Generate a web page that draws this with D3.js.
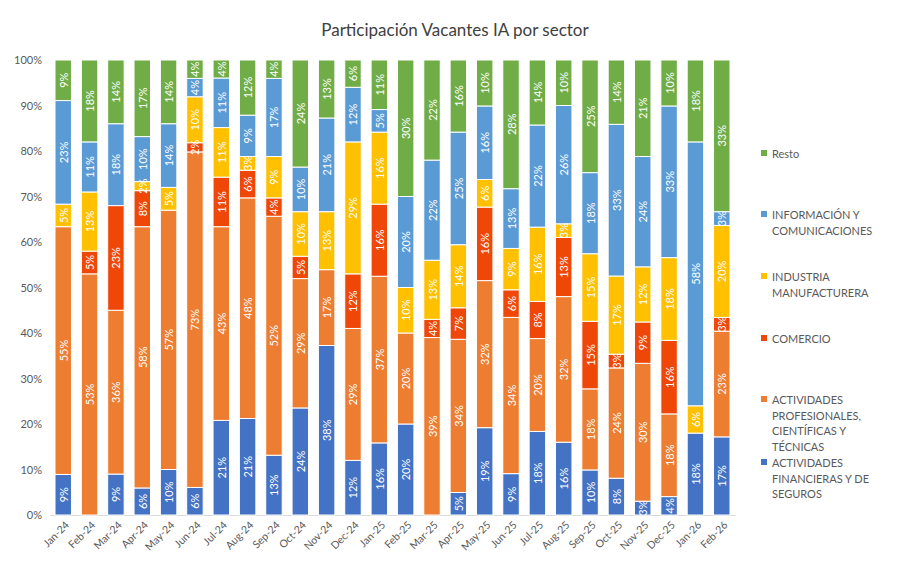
<!DOCTYPE html>
<html>
<head>
<meta charset="utf-8">
<script src="https://cdn.jsdelivr.net/npm/d3@7"></script>
<style>
  body { margin: 0; background: #fff; }
  svg { font-family: Lato, "Open Sans", sans-serif; }
</style>
</head>
<body>
<div id="chart"></div>
<script>
// months on the x axis
const months = ['Jan-24', 'Feb-24', 'Mar-24', 'Apr-24', 'May-24', 'Jun-24', 'Jul-24', 'Aug-24',
  'Sep-24', 'Oct-24', 'Nov-24', 'Dec-24', 'Jan-25', 'Feb-25', 'Mar-25', 'Apr-25', 'May-25',
  'Jun-25', 'Jul-25', 'Aug-25', 'Sep-25', 'Oct-25', 'Nov-25', 'Dec-25', 'Jan-26', 'Feb-26'];

// share of vacancies per sector (%)
const financieras   = [9, 0, 9, 6, 10, 6, 21, 21, 13, 24, 38, 12, 16, 20, 0, 5, 19, 9, 18, 16, 10, 8, 3, 4, 18, 17];
const profesionales = [55, 53, 36, 58, 57, 73, 43, 48, 52, 29, 17, 29, 37, 20, 39, 34, 32, 34, 20, 32, 18, 24, 30, 18, 0, 23];
const comercio      = [0, 5, 23, 8, 0, 2, 11, 6, 4, 5, 0, 12, 16, 0, 4, 7, 16, 6, 8, 13, 15, 3, 9, 16, 0, 3];
const industria     = [5, 13, 0, 2, 5, 10, 11, 3, 9, 10, 13, 29, 16, 10, 13, 14, 6, 9, 16, 3, 15, 17, 12, 18, 6, 20];
const informacion   = [23, 11, 18, 10, 14, 4, 11, 9, 17, 10, 21, 12, 5, 20, 22, 25, 16, 13, 22, 26, 18, 33, 24, 33, 58, 3];
const resto         = [9, 18, 14, 17, 14, 4, 4, 12, 4, 24, 13, 6, 11, 30, 22, 16, 10, 28, 14, 10, 25, 14, 21, 10, 18, 33];

const series = [
  { key: 'fin', values: financieras, color: '#4472C4', label: ['ACTIVIDADES', 'FINANCIERAS Y DE', 'SEGUROS'] },
  { key: 'prof', values: profesionales, color: '#ED7D31', label: ['ACTIVIDADES', 'PROFESIONALES,', 'CIENTÍFICAS Y', 'TÉCNICAS'] },
  { key: 'com', values: comercio, color: '#EE4708', label: ['COMERCIO'] },
  { key: 'ind', values: industria, color: '#FFC000', label: ['INDUSTRIA', 'MANUFACTURERA'] },
  { key: 'info', values: informacion, color: '#5B9BD5', label: ['INFORMACIÓN Y', 'COMUNICACIONES'] },
  { key: 'resto', values: resto, color: '#70AD47', label: ['Resto'] }
];

const width = 905, height = 565;
const margin = { top: 60, right: 170, bottom: 50, left: 50 };

const svg = d3.select('#chart').append('svg')
  .attr('width', width)
  .attr('height', height);

svg.append('text')
  .attr('x', 455)
  .attr('y', 36)
  .attr('text-anchor', 'middle')
  .attr('font-size', 17)
  .attr('fill', '#404040')
  .text('Participación Vacantes IA por sector');

const rows = months.map((m, i) => {
  const r = { month: m };
  series.forEach(s => r[s.key] = s.values[i]);
  return r;
});

const stacked = d3.stack()
  .keys(series.map(s => s.key))
  .offset(d3.stackOffsetExpand)(rows);

const x = d3.scaleBand()
  .domain(months)
  .range([margin.left, width - margin.right])
  .paddingInner(0.375)
  .paddingOuter(0.19);

const y = d3.scaleLinear()
  .domain([0, 1])
  .range([height - margin.bottom, margin.top]);

// y axis
const yAxis = svg.append('g')
  .attr('transform', `translate(${margin.left},0)`)
  .call(d3.axisLeft(y).tickValues(d3.range(0, 1.01, 0.1)).tickFormat(d3.format('.0%')).tickSize(0).tickPadding(8));
yAxis.select('.domain').remove();
yAxis.selectAll('text').attr('fill', '#595959').attr('font-size', 11).attr('font-family', 'Lato, sans-serif');

// x axis
const xAxis = svg.append('g')
  .attr('transform', `translate(0,${height - margin.bottom})`)
  .call(d3.axisBottom(x).tickSize(0));
xAxis.select('.domain').attr('stroke', '#d9d9d9');
xAxis.selectAll('text')
  .attr('fill', '#595959')
  .attr('font-size', 10.5)
  .attr('font-family', 'Lato, sans-serif')
  .attr('text-anchor', 'end')
  .attr('dy', '0.35em')
  .attr('transform', 'translate(4,8) rotate(-45)')
  .attr('y', 0);

// bars
const layers = svg.append('g').selectAll('g.layer')
  .data(stacked)
  .enter()
  .append('g')
  .attr('class', 'layer')
  .attr('fill', (d, i) => series[i].color);

layers.selectAll('rect')
  .data(d => d.filter(p => p.data[d.key] > 0))
  .enter()
  .append('rect')
  .attr('x', d => x(d.data.month))
  .attr('width', x.bandwidth())
  .attr('y', d => y(d[1]))
  .attr('height', d => y(d[0]) - y(d[1]))
  .attr('stroke', '#fff')
  .attr('stroke-width', 1);

// data labels
const labels = svg.append('g');
stacked.forEach(layer => {
  layer.forEach(p => {
    const v = p.data[layer.key];
    if (v <= 0) return;
    const cx = x(p.data.month) + x.bandwidth() / 2;
    const cy = (y(p[0]) + y(p[1])) / 2;
    labels.append('text')
      .attr('transform', `translate(${cx},${cy}) rotate(-90)`)
      .attr('text-anchor', 'middle')
      .attr('dominant-baseline', 'central')
      .attr('fill', '#fff')
      .attr('font-size', 11)
      .text(v + '%');
  });
});

// legend, top to bottom
const legendTops = { resto: 153, info: 214, ind: 276, com: 338, prof: 399, fin: 462 };
const legend = svg.append('g');
series.slice().reverse().forEach(s => {
  const ly = legendTops[s.key];
  legend.append('rect')
    .attr('x', 761)
    .attr('y', ly - 3)
    .attr('width', 6)
    .attr('height', 6)
    .attr('fill', s.color);
  const t = legend.append('text')
    .attr('x', 772)
    .attr('y', ly)
    .attr('font-size', 11)
    .attr('fill', '#595959')
    .attr('dominant-baseline', 'central');
  s.label.forEach((line, j) => {
    t.append('tspan').attr('x', 772).attr('dy', j === 0 ? 0 : 15.6).text(line);
  });
});
</script>
</body>
</html>
